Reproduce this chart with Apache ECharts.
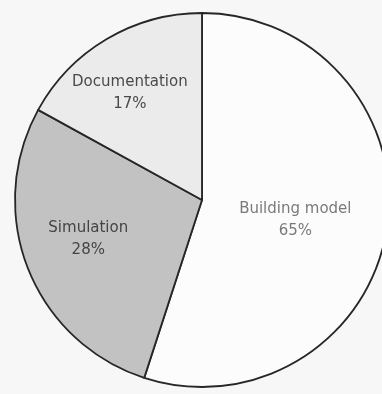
<!DOCTYPE html>
<html>
<head>
<meta charset="utf-8">
<script src="https://cdn.jsdelivr.net/npm/echarts@6/dist/echarts.min.js"></script>
<style>
html,body{margin:0;padding:0;background:#f7f7f7;}
#c{width:382px;height:394px;}
</style>
</head>
<body>
<div id="c"></div>
<script>
// Data
var categories = ['Building model', 'Simulation', 'Documentation'];
var values = [55, 28, 17];
var percentLabels = ['65%', '28%', '17%'];

// Styles (not data)
var sliceColors = ['#fcfcfc', '#c2c2c2', '#ebebeb'];
var labelColors = ['#7a7a7a', '#444444', '#4a4a4a'];
var labelOffsets = [[-2, 5], [-24, 4], [-23, -24]];

var chart = echarts.init(document.getElementById('c'), null, {renderer: 'canvas'});
var seriesData = categories.map(function (name, i) {
  return {
    name: name,
    value: values[i],
    itemStyle: {color: sliceColors[i]},
    label: {color: labelColors[i], offset: labelOffsets[i]}
  };
});
chart.setOption({
  backgroundColor: '#f7f7f7',
  animation: false,
  series: [{
    type: 'pie',
    center: [202, 200],
    radius: 187,
    startAngle: 90,
    clockwise: true,
    avoidLabelOverlap: false,
    itemStyle: {borderColor: '#262626', borderWidth: 1.8},
    label: {
      show: true,
      position: 'inside',
      fontFamily: 'DejaVu Sans',
      fontSize: 15,
      lineHeight: 22,
      align: 'center',
      formatter: function (p) {
        return p.name + '\n' + percentLabels[p.dataIndex];
      }
    },
    labelLine: {show: false},
    emphasis: {disabled: true},
    data: seriesData
  }]
});
</script>
</body>
</html>
